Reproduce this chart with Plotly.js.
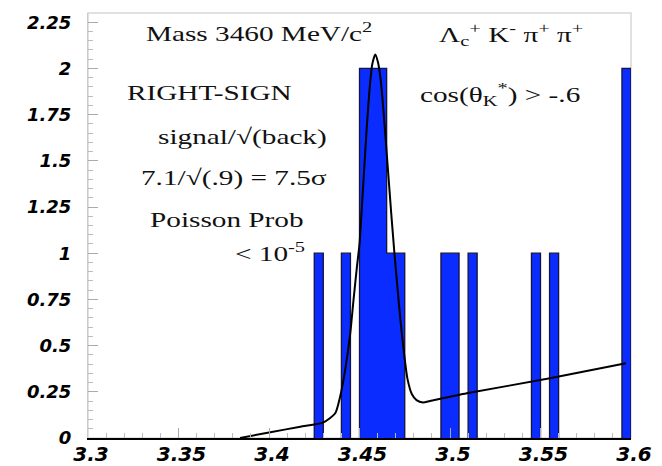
<!DOCTYPE html>
<html>
<head>
<meta charset="utf-8">
<script src="https://cdn.plot.ly/plotly-3.0.1.min.js"></script>
<style>
  html, body { margin: 0; padding: 0; background: #fff; }
  #chart { width: 662px; height: 466px; }
  .annotation-text { transform-box: fill-box; transform-origin: center; transform: scaleX(1.33); }
</style>
</head>
<body>
<div id="chart"></div>
<script>
// Histogram bins (left edges, bin width 0.005 GeV) and entries
const binWidth = 0.005;
const binLeft = [3.425, 3.440, 3.450, 3.455, 3.460, 3.465, 3.470, 3.495, 3.500, 3.510, 3.545, 3.555, 3.595];
const binCount = [1, 1, 2, 2, 2, 1, 1, 1, 1, 1, 1, 1, 2];

// Fitted curve (Gaussian + linear background)
const fitX = [3.384, 3.400, 3.4173, 3.4301, 3.4366, 3.4393, 3.4421, 3.4449, 3.4467, 3.4486, 3.4500, 3.4520, 3.4540, 3.4555, 3.4570, 3.4587,
              3.4603, 3.4618, 3.4635, 3.4655, 3.4675, 3.4693, 3.4710, 3.4728, 3.4747, 3.4765, 3.4789, 3.4815, 3.4851, 3.4890, 3.5093, 3.5552, 3.5972];
const fitY = [0.0, 0.03, 0.061, 0.085, 0.134, 0.224, 0.369, 0.567, 0.748, 0.929, 1.05, 1.36, 1.68, 1.88, 2.02, 2.076,
              2.03, 1.93, 1.74, 1.48, 1.22, 1.00, 0.81, 0.62, 0.45, 0.32, 0.238, 0.205, 0.192, 0.200, 0.242, 0.323, 0.405];

// Axis ticks
const xTicks = [3.3, 3.35, 3.4, 3.45, 3.5, 3.55, 3.6];
const xTickText = ["3.3", "3.35", "3.4", "3.45", "3.5", "3.55", "3.6"];
const yTicks = [0, 0.25, 0.5, 0.75, 1, 1.25, 1.5, 1.75, 2, 2.25];
const yTickText = ["0", "0.25", "0.5", "0.75", "1", "1.25", "1.5", "1.75", "2", "2.25"];

// Filled step outline of the histogram (envelope like ROOT); each run of adjacent bins is one polygon
const histX = [], histY = [];
for (let i = 0; i < binLeft.length; i++) {
  const l = binLeft[i], r = l + binWidth, c = binCount[i];
  const prevAdj = i > 0 && Math.abs(binLeft[i - 1] + binWidth - l) < 1e-9;
  const nextAdj = i < binLeft.length - 1 && Math.abs(r - binLeft[i + 1]) < 1e-9;
  if (!prevAdj) { histX.push(l); histY.push(0); }
  histX.push(l); histY.push(c);
  histX.push(r); histY.push(c);
  if (!nextAdj) { histX.push(r); histY.push(0); histX.push(null); histY.push(null); }
}

const hist = {
  type: 'scatter', mode: 'lines', x: histX, y: histY,
  fill: 'toself', fillcolor: '#0a2cff',
  line: { color: '#14143c', width: 1.3 }, connectgaps: false,
  hoverinfo: 'skip', showlegend: false
};
const fit = {
  type: 'scatter', mode: 'lines', x: fitX, y: fitY,
  line: { color: '#000', width: 2, shape: 'spline', smoothing: 0.6 },
  hoverinfo: 'skip', showlegend: false
};

const serif = { family: 'Liberation Serif, Times New Roman, serif', size: 22, color: '#111' };
function ann(x, y, text) {
  return { xref: 'x', yref: 'y', x: x, y: y, text: text, showarrow: false, font: serif, xanchor: 'center', yanchor: 'middle' };
}

const layout = {
  width: 662, height: 466,
  margin: { l: 88, r: 31, t: 13, b: 28, pad: 0 },
  paper_bgcolor: '#fff', plot_bgcolor: '#fff',
  xaxis: {
    range: [3.3, 3.6], tickmode: 'array', tickvals: xTicks, ticktext: xTickText,
    ticks: 'inside', ticklen: 10, tickcolor: '#aaa', tickwidth: 1,
    minor: { dtick: 0.01, tick0: 3.3, ticks: 'inside', ticklen: 5, tickcolor: '#bbb', showgrid: false },
    showgrid: false, zeroline: false, showline: true, linecolor: '#000', linewidth: 1.5,
    tickfont: { family: 'DejaVu Sans', size: 20, weight: 'bold', style: 'italic', color: '#000' },
    ticklabelstandoff: -3, ticklabelshift: 3, automargin: false, fixedrange: true
  },
  yaxis: {
    range: [0, 2.30], tickmode: 'array', tickvals: yTicks, ticktext: yTickText,
    ticks: 'inside', ticklen: 10, tickcolor: '#aaa', tickwidth: 1,
    minor: { dtick: 0.05, tick0: 0, ticks: 'inside', ticklen: 5, tickcolor: '#bbb', showgrid: false },
    showgrid: false, zeroline: false, showline: true, linecolor: '#ccc', linewidth: 1,
    tickfont: { family: 'DejaVu Sans', size: 18, weight: 'bold', style: 'italic', color: '#000' },
    ticklabelstandoff: 12, automargin: false, fixedrange: true
  },
  shapes: [
    { type: 'rect', xref: 'paper', yref: 'paper', x0: 0, x1: 1, y0: 0, y1: 1, line: { color: '#d8d8d8', width: 1.5 }, layer: 'below' }
  ],
  annotations: [
    ann(3.3947, 2.195, 'Mass 3460 MeV/c<sup>2</sup>'),
    ann(3.5337, 2.184, 'Λ<sub>c</sub><sup>+</sup> K<sup>-</sup> π<sup>+</sup> π<sup>+</sup>'),
    ann(3.367, 1.870, 'RIGHT-SIGN'),
    ann(3.5276, 1.859, 'cos(θ<sub>K</sub><sup>*</sup>) &gt; -.6'),
    ann(3.3853, 1.631, 'signal/√(back)'),
    ann(3.3809, 1.409, '7.1/√(.9) = 7.5σ'),
    ann(3.377, 1.182, 'Poisson Prob'),
    ann(3.4007, 1.008, '&lt; 10<sup>-5</sup>')
  ]
};

Plotly.newPlot('chart', [hist, fit], layout, { displayModeBar: false, staticPlot: true });
</script>
</body>
</html>
